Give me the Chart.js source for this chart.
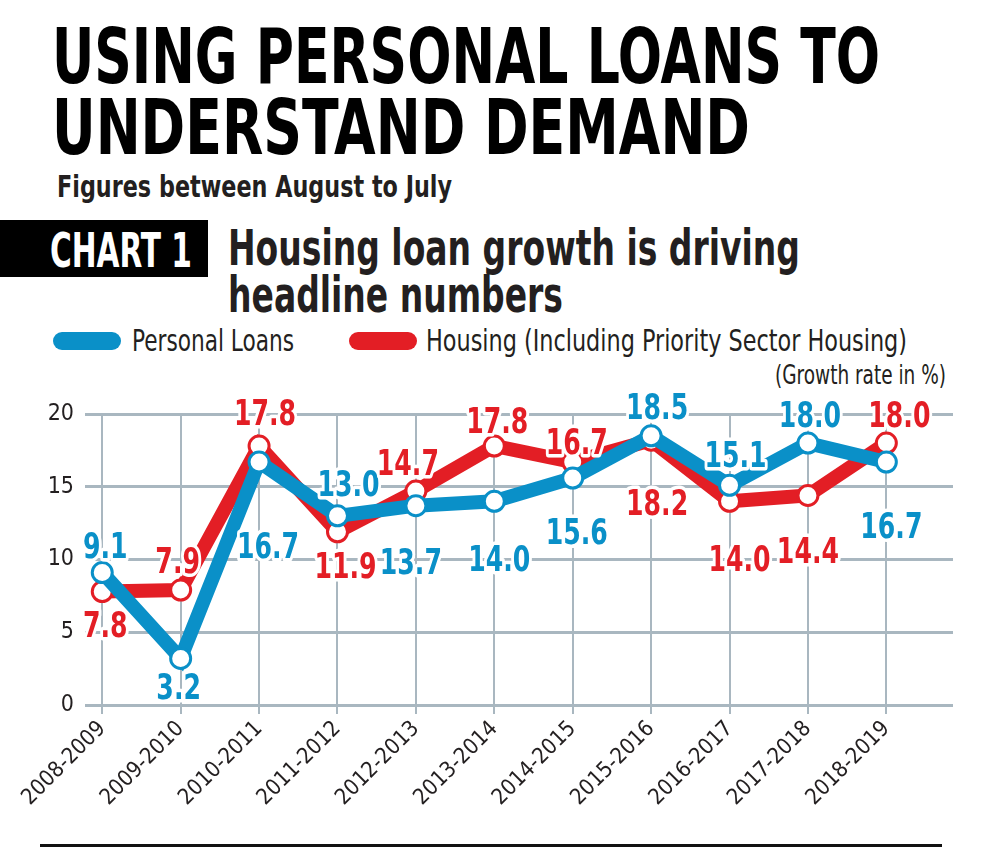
<!DOCTYPE html>
<html>
<head>
<meta charset="utf-8">
<script src="https://cdn.jsdelivr.net/npm/chart.js@4.4.1/dist/chart.umd.min.js"></script>
<style>
  body { margin:0; background:#fff; width:1000px; height:857px; position:relative; overflow:hidden; }
  .t { position:absolute; white-space:nowrap; line-height:1; transform-origin:0 0; font-family:"DejaVu Sans Condensed","DejaVu Sans",sans-serif; color:#111; }
  .b { font-weight:bold; }
  .sw { position:absolute; height:18px; border-radius:9px; }
  #box { position:absolute; left:0; top:220px; width:208px; height:57px; background:#000; }
  #rule { position:absolute; left:40px; top:844px; width:902px; height:3px; background:#111; }
  #wrap { position:absolute; left:0; top:385px; width:1000px; height:428px; }
</style>
</head>
<body>
<div class="t b" data-w="828" style="left:52px;top:19px;font-size:76px;color:#000">USING PERSONAL LOANS TO</div>
<div class="t b" data-w="698" style="left:52px;top:90px;font-size:76px;color:#000">UNDERSTAND DEMAND</div>
<div class="t b" data-w="395" style="left:57px;top:172px;font-size:30px;color:#231f20">Figures between August to July</div>

<div id="box"></div>
<div class="t b" data-w="142" style="left:50px;top:226px;font-size:48px;color:#fff">CHART 1</div>
<div class="t b" data-w="572" style="left:228px;top:223px;font-size:50px;color:#231f20">Housing loan growth is driving</div>
<div class="t b" data-w="335" style="left:228px;top:270px;font-size:50px;color:#231f20">headline numbers</div>

<div class="sw" style="left:53px;top:332px;width:68px;background:#0a90c8"></div>
<div class="t" data-w="162" style="left:132px;top:326px;font-size:30px;color:#231f20">Personal Loans</div>
<div class="sw" style="left:349px;top:332px;width:68px;background:#e31e25"></div>
<div class="t" data-w="481" style="left:426px;top:326px;font-size:30px;color:#231f20">Housing (Including Priority Sector Housing)</div>
<div class="t" data-w="171" style="left:775px;top:362px;font-size:26px;color:#231f20">(Growth rate in %)</div>

<div id="wrap"><canvas id="c" width="1000" height="428"></canvas></div>
<div id="rule"></div>

<script>
const years = ['2008-2009','2009-2010','2010-2011','2011-2012','2012-2013','2013-2014','2014-2015','2015-2016','2016-2017','2017-2018','2018-2019'];
const personalLoans = [9.1, 3.2, 16.7, 13.0, 13.7, 14.0, 15.6, 18.5, 15.1, 18.0, 16.7];
const housingLoans = [7.8, 7.9, 17.8, 11.9, 14.7, 17.8, 16.7, 18.2, 14.0, 14.4, 18.0];
const yTicks = [0, 5, 10, 15, 20];

// label offsets in px from each point (placement only)
const blueOff = [[3,-25],[-2,30],[9,86],[11,-30],[-5,58],[5,60],[4,56],[6,-27],[6,-28],[2,-26],[5,66]];
const redOff  = [[3,35],[-3,-27],[6,-31],[8,36],[-8,-26],[3,-23],[4,-18],[6,65],[10,60],[0,57],[13,-26]];

const BLUE = '#0a90c8', RED = '#e31e25', GRID = '#a9b7c0';
const FAM = '"DejaVu Sans Condensed","DejaVu Sans",sans-serif';

// squeeze html text to the measured widths
document.querySelectorAll('.t[data-w]').forEach(el => {
  const w = el.getBoundingClientRect().width;
  el.style.transform = 'scaleX(' + (el.dataset.w / w) + ')';
});

const valueLabels = {
  id: 'valueLabels',
  afterDatasetsDraw(chart) {
    const ctx = chart.ctx;
    chart.data.datasets.forEach((ds, i) => {
      const off = i === 0 ? blueOff : redOff;
      chart.getDatasetMeta(i).data.forEach((p, j) => {
        const txt = ds.data[j].y.toFixed(1);
        ctx.save();
        ctx.translate(p.x + off[j][0], p.y + off[j][1]);
        ctx.scale(0.8, 1);
        ctx.font = 'bold 35px ' + FAM;
        ctx.textAlign = 'center';
        ctx.textBaseline = 'middle';
        ctx.lineJoin = 'round';
        ctx.strokeStyle = '#fff';
        ctx.lineWidth = 7;
        ctx.strokeText(txt, 0, 1);
        ctx.fillStyle = ds.borderColor;
        ctx.fillText(txt, 0, 1);
        ctx.restore();
      });
    });
  }
};

new Chart(
  document.getElementById('c'),
  {
    type: 'line',
    data: {
      datasets: [
        {
          label: 'Personal Loans',
          data: personalLoans.map((v, i) => ({ x: i, y: v })),
          borderColor: BLUE,
          borderWidth: 14,
          pointRadius: 10,
          pointBorderWidth: 3,
          pointBackgroundColor: '#fff',
          pointBorderColor: BLUE,
          tension: 0,
          clip: false
        },
        {
          label: 'Housing (Including Priority Sector Housing)',
          data: housingLoans.map((v, i) => ({ x: i, y: v })),
          borderColor: RED,
          borderWidth: 14,
          pointRadius: 10,
          pointBorderWidth: 3,
          pointBackgroundColor: '#fff',
          pointBorderColor: RED,
          tension: 0,
          clip: false
        }
      ]
    },
    options: {
      responsive: false,
      animation: false,
      layout: { padding: { top: 29, right: 47, left: 0, bottom: 0 } },
      scales: {
        x: {
          type: 'linear',
          min: -0.22,
          max: 10.85,
          afterFit: s => { s.height = 108; },
          afterBuildTicks: s => { s.ticks = years.map((_, i) => ({ value: i })); },
          ticks: {
            autoSkip: false,
            maxRotation: 45,
            minRotation: 45,
            padding: 2,
            color: '#231f20',
            font: { family: FAM, size: 22 },
            callback: v => years[v]
          },
          grid: { color: GRID, lineWidth: 2, tickLength: 9 },
          border: { display: false }
        },
        y: {
          min: 0,
          max: 20,
          afterFit: s => { s.width = 85; },
          afterBuildTicks: s => { s.ticks = yTicks.map(v => ({ value: v })); },
          ticks: {
            padding: 11,
            color: '#231f20',
            font: { family: FAM, size: 23 }
          },
          grid: { color: GRID, lineWidth: 3, drawTicks: false },
          border: { display: false }
        }
      },
      plugins: {
        legend: { display: false },
        tooltip: { enabled: false }
      }
    },
    plugins: [valueLabels]
  }
);
</script>
</body>
</html>
